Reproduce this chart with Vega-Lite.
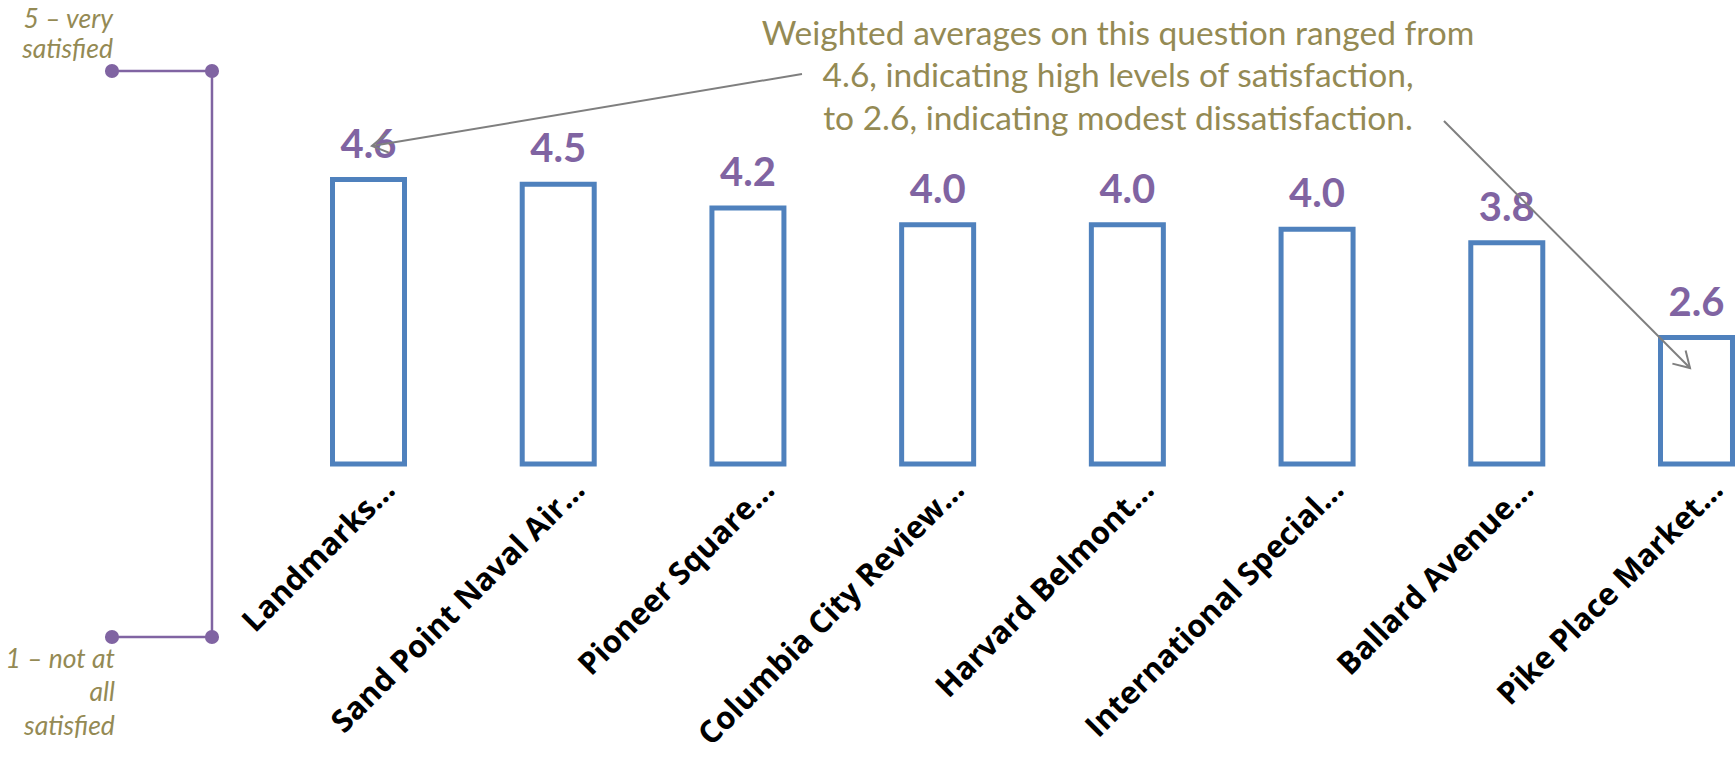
{
  "$schema": "https://vega.github.io/schema/vega-lite/v6.json",
  "width": 1405,
  "height": 316,
  "autosize": {"type": "none"},
  "padding": {"left": 330, "top": 148, "right": 0, "bottom": 294},
  "background": "white",
  "config": {"view": {"stroke": null}},
  "datasets": {
    "bars": [
      {"site": "Landmarks…", "score": 4.6},
      {"site": "Sand Point Naval Air…", "score": 4.54},
      {"site": "Pioneer Square…", "score": 4.24},
      {"site": "Columbia City Review…", "score": 4.03},
      {"site": "Harvard Belmont…", "score": 4.03},
      {"site": "International Special…", "score": 3.97},
      {"site": "Ballard Avenue…", "score": 3.8},
      {"site": "Pike Place Market…", "score": 2.6}
    ],
    "arrows": [
      {"arrow": "high", "i": 2.285, "v": 5.937, "i2": 0.018, "v2": 5.025},
      {"arrow": "low", "i": 5.669, "v": 5.342, "i2": 6.966, "v2": 2.215}
    ],
    "note": [
      {"text": "Weighted averages on this question ranged from\n4.6, indicating high levels of satisfaction,\nto 2.6, indicating modest dissatisfaction.", "i": 3.951, "v": 6.304}
    ],
    "bracket": [
      {"ord": 1, "i": -1.352, "level": 5},
      {"ord": 2, "i": -0.825, "level": 5},
      {"ord": 3, "i": -0.825, "level": 1},
      {"ord": 4, "i": -1.352, "level": 1}
    ],
    "bracketLabels": [
      {"label": "5 – very\nsatisfied", "i": -1.347, "level": 5.304, "pos": "top"},
      {"label": "1 – not at\nall\nsatisfied", "i": -1.337, "level": 0.781, "pos": "bottom"}
    ]
  },
  "layer": [
    {
      "data": {"name": "bars"},
      "encoding": {
        "x": {
          "field": "site",
          "type": "nominal",
          "sort": null,
          "scale": {"paddingInner": 0.6205, "paddingOuter": 0.0132},
          "axis": {
            "title": null,
            "domain": false,
            "ticks": false,
            "tickSize": 0,
            "grid": false,
            "labelAngle": -45,
            "labelAlign": "right",
            "labelBaseline": "middle",
            "labelFont": "Open Sans",
            "labelFontWeight": "bold",
            "labelFontSize": 31,
            "labelColor": "#000000",
            "labelOffset": 22,
            "labelPadding": 21,
            "labelLimit": 0,
            "labelOverlap": false
          }
        },
        "y": {
          "field": "score",
          "type": "quantitative",
          "scale": {"domain": [1, 5], "nice": false, "zero": false},
          "axis": null
        }
      },
      "layer": [
        {
          "mark": {"type": "bar", "fill": "#FFFFFF", "stroke": "#4F81BD", "strokeWidth": 5},
          "encoding": {"y2": {"datum": 1}}
        },
        {
          "mark": {"type": "text", "font": "Lato", "fontWeight": "bold", "fontSize": 40, "color": "#8064A2", "baseline": "alphabetic", "align": "center", "dy": -22},
          "encoding": {"text": {"field": "score", "type": "quantitative", "format": ".1f"}}
        }
      ]
    },
    {
      "data": {"name": "arrows"},
      "encoding": {
        "x": {"field": "i", "type": "quantitative", "scale": {"domain": [-0.2029, 7.2031], "nice": false, "zero": false}, "axis": null},
        "y": {"field": "v", "type": "quantitative", "scale": {"domain": [1, 5], "nice": false, "zero": false}, "axis": null},
        "x2": {"field": "i2"},
        "y2": {"field": "v2"}
      },
      "mark": {"type": "rule", "color": "#7F7F7F", "strokeWidth": 2}
    },
    {
      "data": {"name": "arrows"},
      "transform": [{"filter": "datum.arrow === 'high'"}],
      "encoding": {
        "x": {"field": "i2", "type": "quantitative", "scale": {"domain": [-0.2029, 7.2031], "nice": false, "zero": false}, "axis": null},
        "y": {"field": "v2", "type": "quantitative", "scale": {"domain": [1, 5], "nice": false, "zero": false}, "axis": null}
      },
      "mark": {"type": "point", "shape": "M -1 -0.6 L 0 0 L -1 0.6", "filled": false, "stroke": "#7F7F7F", "strokeWidth": 2, "size": 970, "angle": 170.5, "opacity": 1}
    },
    {
      "data": {"name": "arrows"},
      "transform": [{"filter": "datum.arrow === 'low'"}],
      "encoding": {
        "x": {"field": "i2", "type": "quantitative", "scale": {"domain": [-0.2029, 7.2031], "nice": false, "zero": false}, "axis": null},
        "y": {"field": "v2", "type": "quantitative", "scale": {"domain": [1, 5], "nice": false, "zero": false}, "axis": null}
      },
      "mark": {"type": "point", "shape": "M -1 -0.6 L 0 0 L -1 0.6", "filled": false, "stroke": "#7F7F7F", "strokeWidth": 2, "size": 970, "angle": 45, "opacity": 1}
    },
    {
      "data": {"name": "note"},
      "encoding": {
        "x": {"field": "i", "type": "quantitative", "scale": {"domain": [-0.2029, 7.2031], "nice": false, "zero": false}, "axis": null},
        "y": {"field": "v", "type": "quantitative", "scale": {"domain": [1, 5], "nice": false, "zero": false}, "axis": null},
        "text": {"field": "text"}
      },
      "mark": {"type": "text", "lineBreak": "\n", "lineHeight": 42.5, "font": "Lato", "fontSize": 33.5, "color": "#948A54", "align": "center", "baseline": "alphabetic"}
    },
    {
      "data": {"name": "bracket"},
      "encoding": {
        "x": {"field": "i", "type": "quantitative", "scale": {"domain": [-0.2029, 7.2031], "nice": false, "zero": false}, "axis": null},
        "y": {"field": "level", "type": "quantitative", "scale": {"domain": [2.2226, 4.4558], "nice": false, "zero": false}, "axis": null}
      },
      "layer": [
        {
          "mark": {"type": "line", "color": "#8064A2", "strokeWidth": 2.5},
          "encoding": {"order": {"field": "ord", "type": "quantitative"}}
        },
        {
          "mark": {"type": "circle", "color": "#8064A2", "size": 200, "opacity": 1}
        }
      ]
    },
    {
      "data": {"name": "bracketLabels"},
      "transform": [{"filter": "datum.pos === 'top'"}],
      "encoding": {
        "x": {"field": "i", "type": "quantitative", "scale": {"domain": [-0.2029, 7.2031], "nice": false, "zero": false}, "axis": null},
        "y": {"field": "level", "type": "quantitative", "scale": {"domain": [2.2226, 4.4558], "nice": false, "zero": false}, "axis": null},
        "text": {"field": "label"}
      },
      "mark": {"type": "text", "lineBreak": "\n", "lineHeight": 30, "font": "Lato", "fontStyle": "italic", "fontSize": 26.5, "color": "#948A54", "align": "right", "baseline": "alphabetic"}
    },
    {
      "data": {"name": "bracketLabels"},
      "transform": [{"filter": "datum.pos === 'bottom'"}],
      "encoding": {
        "x": {"field": "i", "type": "quantitative", "scale": {"domain": [-0.2029, 7.2031], "nice": false, "zero": false}, "axis": null},
        "y": {"field": "level", "type": "quantitative", "scale": {"domain": [2.2226, 4.4558], "nice": false, "zero": false}, "axis": null},
        "text": {"field": "label"}
      },
      "mark": {"type": "text", "lineBreak": "\n", "lineHeight": 33.5, "font": "Lato", "fontStyle": "italic", "fontSize": 26.5, "color": "#948A54", "align": "right", "baseline": "alphabetic"}
    }
  ],
  "resolve": {"scale": {"x": "independent", "y": "independent"}}
}
